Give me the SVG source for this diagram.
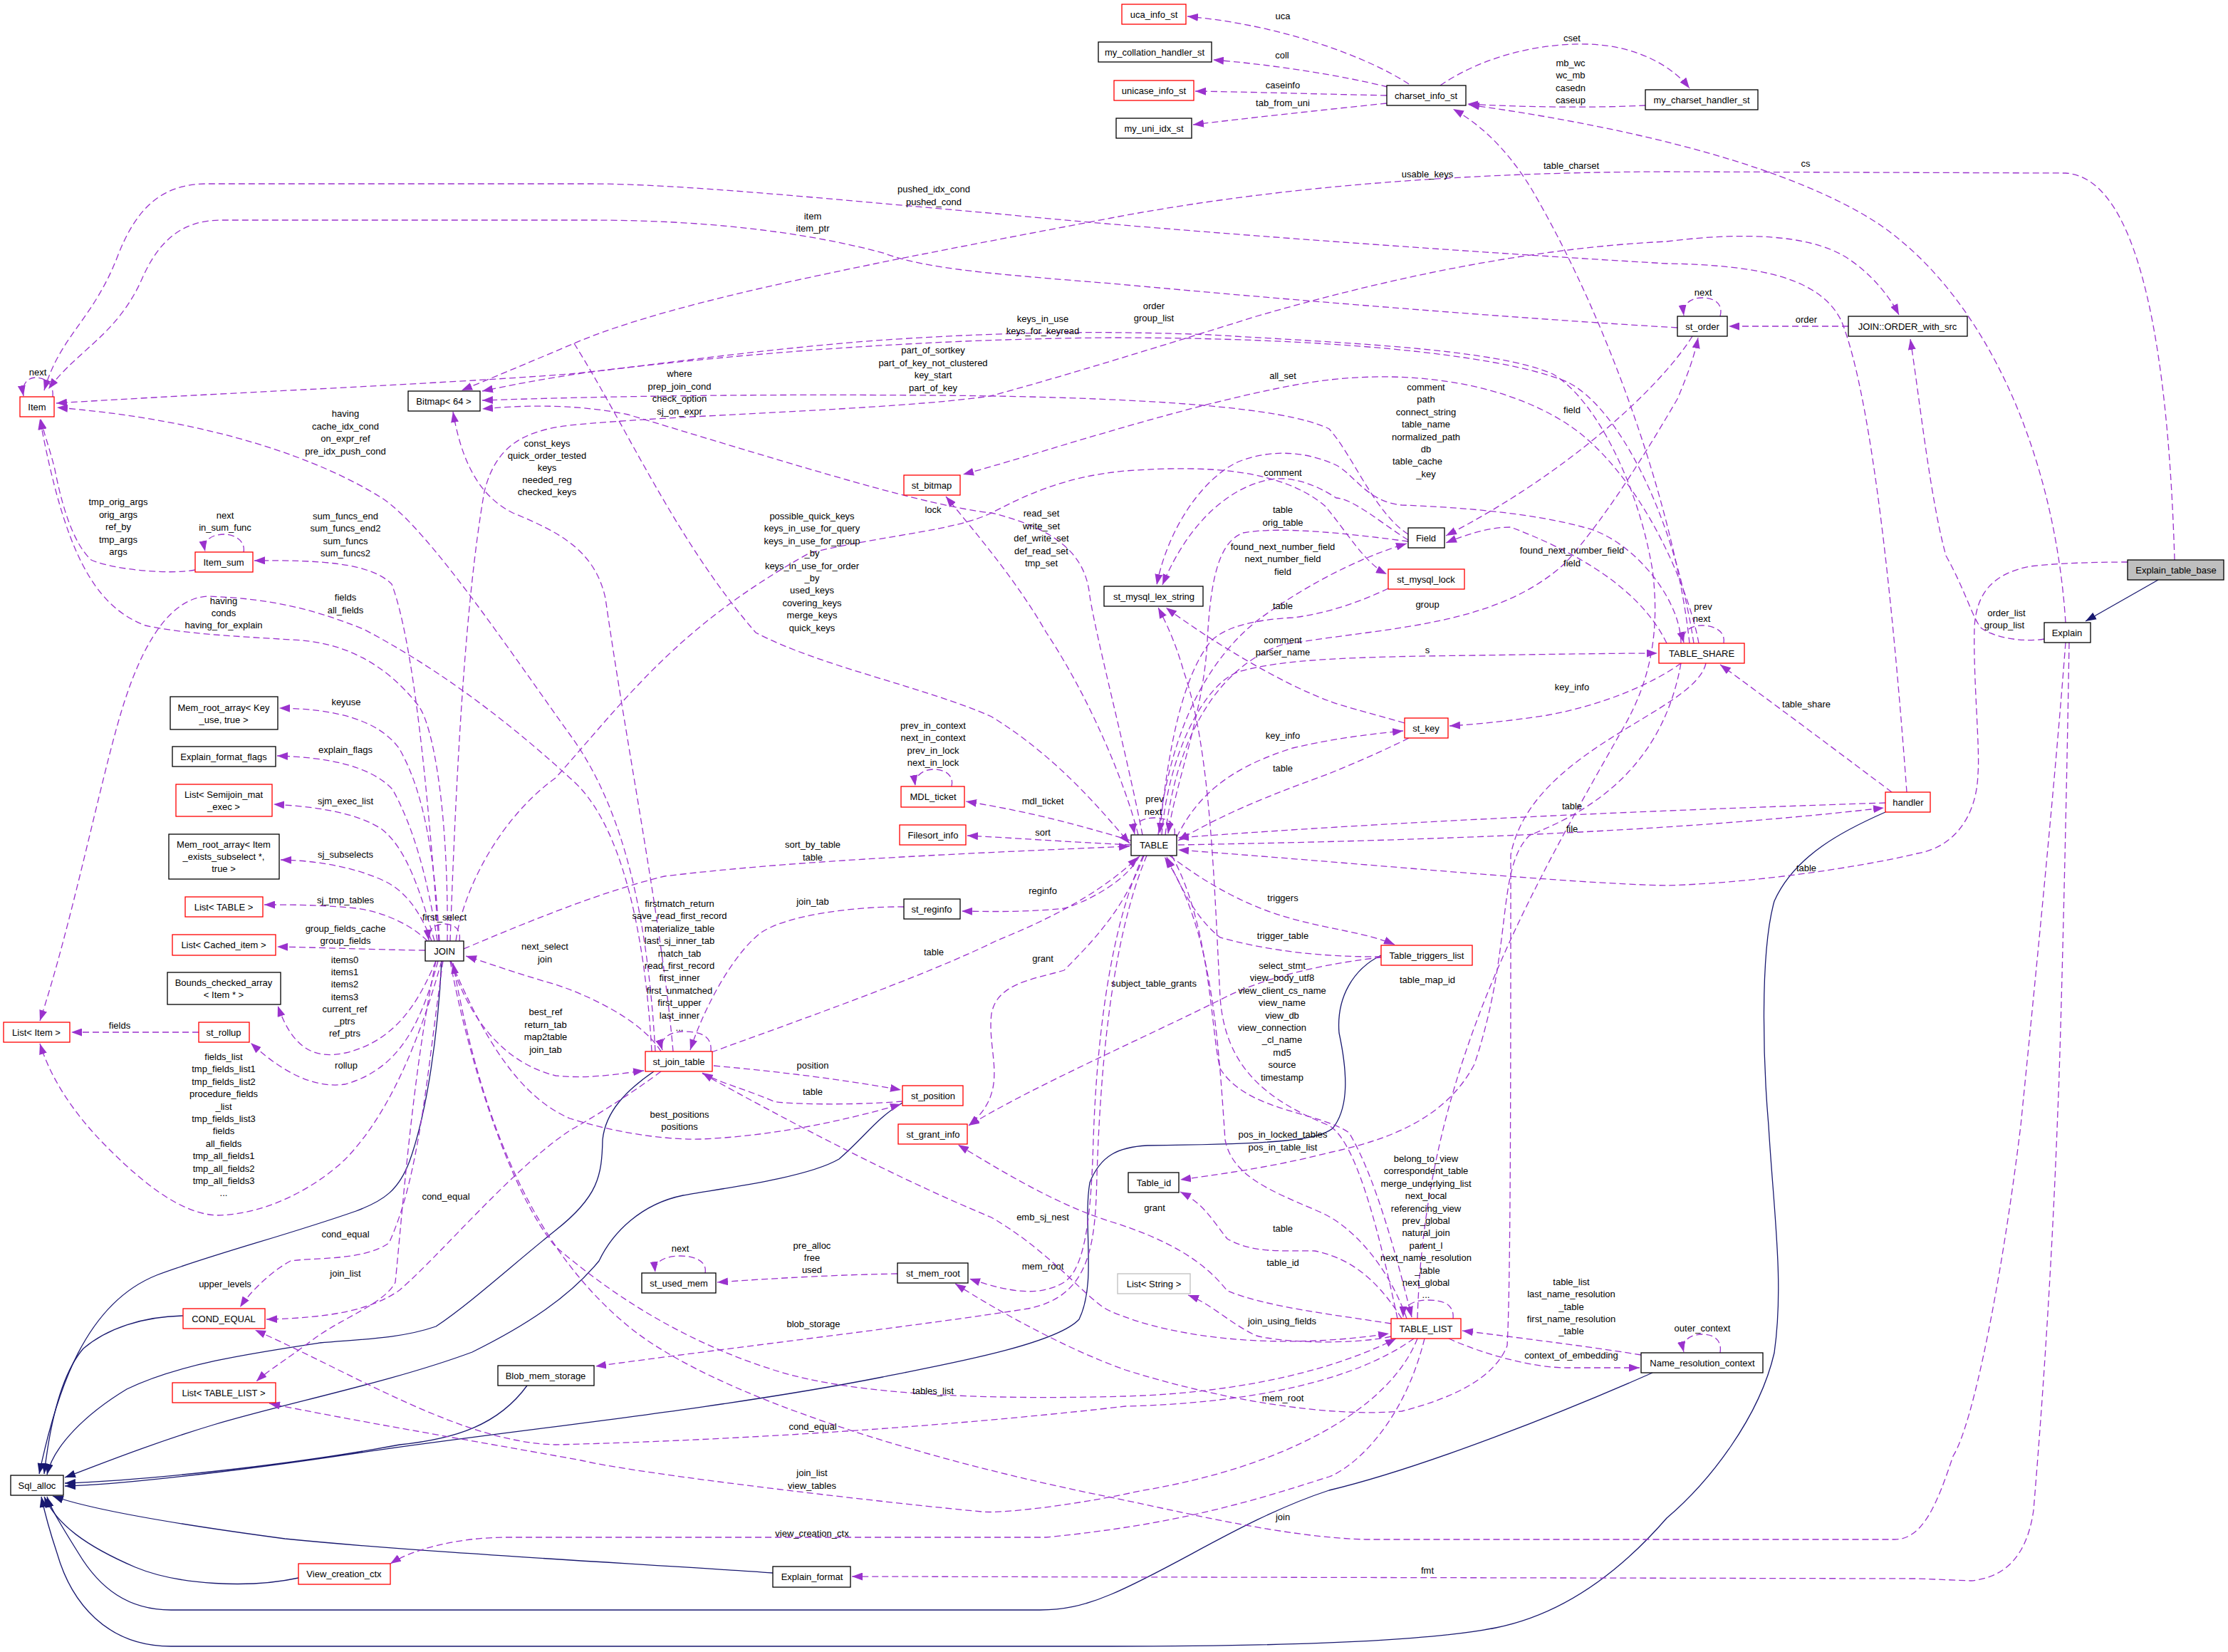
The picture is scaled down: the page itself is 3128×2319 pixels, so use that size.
<svg xmlns="http://www.w3.org/2000/svg" width="3128" height="2319" viewBox="0 0 3128 2319">
<style>
.n rect{fill:#fff;stroke:#000;stroke-width:1.3}
.r rect{stroke:#ff0000}
.g rect{fill:#bfbfbf}
.w rect{stroke:#bfbfbf}
text{font-family:"Liberation Sans",Arial,Helvetica,sans-serif;font-size:13px;fill:#000;text-anchor:middle}
.e{fill:none;stroke:#9a32cd;stroke-width:1.3;stroke-dasharray:9,5;marker-end:url(#pa)}
.s{fill:none;stroke:#191970;stroke-width:1.3;marker-end:url(#pb)}
</style>
<defs>
<marker id="pa" viewBox="0 0 15 11" refX="15" refY="5.5" markerWidth="15" markerHeight="11" markerUnits="userSpaceOnUse" orient="auto"><path d="M0,0 L15,5.5 L0,11 z" fill="#9a32cd"/></marker>
<marker id="pb" viewBox="0 0 15 11" refX="15" refY="5.5" markerWidth="15" markerHeight="11" markerUnits="userSpaceOnUse" orient="auto"><path d="M0,0 L15,5.5 L0,11 z" fill="#191970"/></marker>
</defs>
<rect width="3128" height="2319" fill="#fff"/>
<g id="edges">
<path class="s" d="M3030,814 L2928,872"/>
<path class="s" d="M620,1349 C615,1450 600,1560 575,1630 C560,1670 540,1685 500,1700 C400,1735 300,1760 220,1790 C120,1830 80,1950 55,2069"/>
<path class="s" d="M257,1847 C200,1848 150,1865 117,1893 C85,1930 70,2000 62,2069"/>
<path class="s" d="M918,1504 C880,1530 850,1560 846,1600 C845,1650 840,1680 780,1727 C720,1775 660,1830 612,1862 C560,1880 500,1880 449,1885 C350,1900 250,1915 178,1950 C120,1985 75,2030 66,2070"/>
<path class="s" d="M1267,1548 C1230,1570 1215,1595 1178,1627 C1130,1655 1000,1670 959,1678 C900,1690 860,1730 841,1770 C800,1820 740,1860 663,1898 C550,1940 400,1970 300,2000 C200,2030 130,2060 91,2074"/>
<path class="s" d="M740,1945 C700,2000 640,2020 561,2028 C400,2058 200,2078 91,2082"/>
<path class="s" d="M1939,1341 C1900,1360 1876,1400 1880,1450 C1895,1520 1890,1560 1871,1584 C1850,1600 1800,1606 1611,1608 C1570,1610 1545,1622 1530,1660 C1520,1720 1540,1800 1515,1852 C1480,1890 1300,1920 1239,1933 C1000,1980 700,2010 500,2040 C300,2070 150,2085 91,2086"/>
<path class="s" d="M419,2215 C350,2230 250,2225 190,2200 C120,2170 80,2140 62,2101"/>
<path class="s" d="M1085,2208 C900,2195 600,2180 400,2160 C250,2140 130,2120 74,2100"/>
<path class="s" d="M2320,1927 C2200,1980 2000,2060 1866,2092 C1750,2130 1650,2200 1560,2238 C1520,2255 1490,2260 1460,2260 L240,2260 C180,2260 140,2230 110,2180 C85,2140 70,2115 66,2101"/>
<path class="s" d="M2647,1140 C2590,1165 2520,1200 2491,1265 C2470,1340 2476,1500 2483,1580 C2490,1700 2505,1800 2491,1899 C2470,1990 2400,2080 2340,2131 C2280,2200 2200,2265 2100,2285 C2000,2305 1800,2311 1560,2311 L240,2311 C150,2311 100,2250 80,2180 C70,2150 62,2120 58,2101"/>

<path class="e" d="M1978,118 C1920,80 1800,35 1667,23"/>
<path class="e" d="M1948,122 C1880,105 1780,90 1703,84"/>
<path class="e" d="M1947,134 C1850,132 1750,129 1678,128"/>
<path class="e" d="M1947,145 C1850,155 1750,166 1675,175"/>
<path class="e" d="M2022,120 C2080,80 2160,60 2230,62 C2300,64 2350,95 2372,124"/>
<path class="e" d="M2310,148 C2230,152 2130,150 2060,146"/>
<path class="e" d="M2372,903 C2355,740 2270,470 2150,265 C2110,200 2070,170 2040,153"/>
<path class="e" d="M2900,874 C2885,640 2790,420 2640,316 C2520,236 2300,180 2062,147"/>
<path class="e" d="M3053,786 C3045,520 3010,250 2900,243 L2340,241 C2000,242 1750,270 1560,306 C1250,365 950,420 806,482 C740,510 680,535 648,548"/>
<path class="e" d="M806,482 C880,600 950,760 1061,888 C1150,935 1300,965 1392,1006 C1480,1060 1540,1130 1586,1184"/>
<path class="e" d="M2677,1112 C2660,880 2630,560 2585,450 C2555,390 2470,372 2340,370 C2000,350 1600,320 1400,300 C1150,278 950,258 830,258 L290,258 C225,258 190,295 165,360 C130,450 85,470 62,548"/>
<path class="e" d="M2355,460 C2100,445 1800,420 1560,398 C1400,385 1300,378 1240,355 C1100,318 950,309 830,309 L310,309 C250,309 220,345 200,390 C165,470 110,490 68,546"/>
<path class="e" d="M2415,444 C2420,425 2405,418 2390,418 C2372,418 2362,428 2364,443"/>
<path class="e" d="M2595,458 L2427,458"/>
<path class="e" d="M632,1321 C640,1100 652,850 680,690 C695,630 730,605 800,597 C950,582 1250,576 1390,556 C1480,532 1600,495 1764,444 C1950,390 2150,348 2340,339 C2450,325 2540,330 2590,360 C2630,385 2655,420 2666,442"/>
<path class="e" d="M2376,472 C2330,545 2200,665 2030,752"/>
<path class="e" d="M1636,1172 C1650,1050 1700,940 1800,905 C1950,880 2100,880 2198,790 C2260,720 2320,620 2355,560 C2372,520 2380,495 2384,474"/>
<path class="e" d="M2378,903 C2350,720 2270,570 2200,536 C2100,495 1850,474 1560,474 C1300,476 1050,495 830,522 C760,532 710,542 677,549"/>
<path class="e" d="M1990,1851 C2000,1500 2150,1250 2280,1020 C2320,950 2330,880 2320,800 C2300,680 2240,560 2180,525 C2100,490 1900,482 1700,470 C1500,462 1350,470 1229,478 C1050,492 900,515 800,525 C600,540 300,552 79,566"/>
<path class="e" d="M1977,750 C1930,720 1900,640 1866,602 C1800,570 1600,560 1400,556 C1100,552 850,556 677,562"/>
<path class="e" d="M945,1476 C930,1300 880,1050 850,840 C835,770 780,745 720,720 C680,700 650,660 636,578"/>
<path class="e" d="M2385,903 C2370,820 2300,660 2200,595 C2100,530 1950,515 1815,541 C1650,572 1450,640 1352,666"/>
<path class="e" d="M2360,903 C2360,840 2290,755 2223,740 C2150,720 2050,712 1968,709 C1920,705 1900,665 1876,653 C1840,636 1790,628 1739,648 C1690,670 1640,740 1624,821"/>
<path class="e" d="M1977,758 C1940,735 1900,700 1876,699 C1850,682 1820,670 1790,672 C1730,680 1670,730 1632,821"/>
<path class="e" d="M1977,760 C1900,750 1800,738 1745,748 C1715,760 1700,800 1695,900 C1690,1000 1650,1100 1640,1170"/>
<path class="e" d="M1626,1172 C1640,1050 1680,940 1764,872 C1820,830 1900,785 1975,763"/>
<path class="e" d="M1598,1172 C1580,1100 1530,980 1469,888 C1430,820 1380,760 1328,697"/>
<path class="e" d="M1604,1172 C1580,1050 1540,900 1530,837 C1525,786 1494,745 1392,720 C1300,710 1137,659 882,582 C800,565 720,570 677,574"/>
<path class="e" d="M640,1321 C650,1250 700,1150 780,1092 C880,980 950,880 1137,776 C1250,750 1340,745 1392,720 C1440,695 1494,669 1580,661 C1700,652 1800,660 1860,710 C1890,745 1915,790 1947,806"/>
<path class="e" d="M274,800 C240,807 160,800 128,786 C100,760 85,700 77,659 C70,630 62,610 57,588"/>
<path class="e" d="M342,775 C345,760 330,750 315,750 C295,750 285,760 288,774"/>
<path class="e" d="M616,1321 C600,1100 580,900 550,820 C520,790 450,786 357,787"/>
<path class="e" d="M628,1321 C630,1150 610,1020 587,990 C540,930 480,900 408,898 C330,893 260,890 204,878 C130,850 90,770 56,588"/>
<path class="e" d="M915,1476 C905,1300 870,1150 800,1092 C700,1000 600,930 510,883 C440,855 380,840 291,837 C240,840 200,900 170,1000 C140,1100 100,1300 56,1433"/>
<path class="e" d="M920,1476 C910,1300 880,1140 800,1031 C720,920 600,740 536,699 C450,645 300,590 80,572"/>
<path class="e" d="M617,1321 C610,1200 595,1110 560,1050 C530,1010 470,995 392,994"/>
<path class="e" d="M614,1321 C600,1230 580,1160 551,1108 C520,1075 460,1063 389,1061"/>
<path class="e" d="M610,1321 C590,1250 570,1190 536,1164 C500,1140 440,1132 384,1129"/>
<path class="e" d="M606,1321 C590,1280 570,1250 536,1235 C490,1215 440,1208 394,1207"/>
<path class="e" d="M600,1321 C580,1300 540,1280 500,1275 C450,1270 410,1270 371,1270"/>
<path class="e" d="M645,1321 C648,1303 636,1297 624,1297 C610,1297 600,1305 602,1320"/>
<path class="e" d="M597,1334 C520,1333 450,1330 389,1329"/>
<path class="e" d="M612,1349 C590,1400 560,1460 485,1478 C440,1488 410,1470 390,1412"/>
<path class="e" d="M279,1449 L100,1449"/>
<path class="e" d="M615,1349 C590,1440 560,1500 485,1522 C430,1530 380,1490 352,1464"/>
<path class="e" d="M620,1349 C600,1420 560,1550 485,1627 C440,1670 370,1705 306,1706 C250,1705 190,1650 150,1610 C100,1560 70,1510 56,1465"/>
<path class="e" d="M928,1476 C900,1430 820,1395 780,1382 C720,1365 680,1350 654,1342"/>
<path class="e" d="M633,1349 C655,1420 700,1490 780,1510 C830,1515 870,1507 904,1503"/>
<path class="e" d="M998,1476 C1000,1455 985,1448 960,1448 C940,1448 925,1458 930,1474"/>
<path class="e" d="M1269,1273 C1200,1272 1100,1285 1066,1311 C1030,1340 990,1410 969,1474"/>
<path class="e" d="M999,1477 C1100,1440 1300,1370 1400,1320 C1500,1280 1560,1240 1598,1203"/>
<path class="e" d="M651,1332 C750,1290 850,1250 933,1230 C1100,1210 1300,1200 1586,1188"/>
<path class="e" d="M1336,1104 C1340,1087 1325,1080 1311,1080 C1295,1080 1283,1090 1285,1103"/>
<path class="e" d="M1588,1180 C1520,1160 1450,1140 1356,1125"/>
<path class="e" d="M1588,1186 C1500,1182 1420,1176 1358,1173"/>
<path class="e" d="M1600,1201 C1580,1240 1520,1268 1494,1275 C1450,1280 1400,1280 1350,1279"/>
<path class="e" d="M1606,1201 C1580,1270 1545,1311 1494,1362 C1450,1375 1400,1380 1392,1423 C1385,1480 1420,1530 1360,1580"/>
<path class="e" d="M1002,1496 C1100,1505 1180,1515 1265,1530"/>
<path class="e" d="M1267,1546 C1200,1552 1100,1550 1086,1546 C1050,1530 1010,1520 986,1506"/>
<path class="e" d="M633,1349 C680,1460 730,1540 800,1570 C880,1595 950,1600 984,1599 C1080,1595 1180,1575 1265,1550"/>
<path class="e" d="M1939,1344 C1870,1351 1780,1370 1720,1400 C1600,1460 1450,1525 1360,1580"/>
<path class="e" d="M1953,1858 C1870,1845 1780,1835 1723,1812 C1690,1770 1640,1740 1560,1715 C1480,1690 1400,1640 1345,1607"/>
<path class="e" d="M1968,1851 C1930,1790 1890,1765 1846,1756 C1800,1755 1760,1760 1723,1739 C1700,1710 1690,1690 1657,1673"/>
<path class="e" d="M2360,931 C2330,1100 2200,1150 2147,1173 C2100,1220 2125,1330 2070,1494 C2030,1570 1950,1600 1866,1618 C1780,1640 1700,1650 1657,1656"/>
<path class="e" d="M1645,1201 C1700,1300 1700,1450 1713,1500 C1750,1560 1850,1560 1894,1590 C1930,1650 1960,1760 1982,1849"/>
<path class="e" d="M1975,1851 C1950,1780 1900,1720 1850,1700 C1780,1670 1730,1650 1720,1600 C1710,1450 1700,1300 1635,1203"/>
<path class="e" d="M1962,1851 C1930,1700 1900,1600 1866,1580 C1780,1545 1720,1500 1713,1400 C1705,1250 1700,1050 1662,943 C1650,900 1635,870 1626,853"/>
<path class="e" d="M2040,1851 C2042,1830 2025,1825 2004,1825 C1985,1825 1970,1832 1970,1849"/>
<path class="e" d="M1953,1876 C1900,1888 1800,1885 1764,1875 C1730,1860 1700,1830 1668,1818"/>
<path class="e" d="M986,1507 C1100,1570 1250,1650 1392,1709 C1480,1760 1530,1830 1560,1841 C1650,1880 1800,1895 1950,1872"/>
<path class="e" d="M1260,1788 C1150,1790 1050,1797 1007,1800"/>
<path class="e" d="M990,1787 C993,1770 975,1763 955,1763 C935,1763 918,1770 920,1786"/>
<path class="e" d="M1605,1201 C1560,1300 1540,1450 1535,1600 C1532,1700 1525,1780 1494,1800 C1460,1820 1420,1815 1361,1795"/>
<path class="e" d="M1610,1201 C1560,1320 1545,1500 1540,1650 C1538,1750 1530,1820 1443,1837 C1300,1860 1000,1895 836,1918"/>
<path class="e" d="M2395,931 C2380,1000 2150,1050 2121,1200 C2121,1500 2121,1800 2116,1889 C2100,1930 2050,1960 1968,1981 C1866,1990 1713,1965 1580,1923 C1500,1895 1400,1840 1341,1802"/>
<path class="e" d="M632,1349 C660,1500 720,1680 780,1750 C850,1810 950,1880 1086,1923 C1200,1960 1400,1965 1580,1960 C1750,1955 1880,1920 1960,1879"/>
<path class="e" d="M1985,1879 C1900,1940 1750,1970 1580,1974 C1400,1995 1100,2020 780,2028 C650,2025 500,1930 358,1867"/>
<path class="e" d="M622,1349 C600,1500 590,1650 546,1745 C510,1770 440,1765 408,1770 C380,1785 350,1815 337,1835"/>
<path class="e" d="M928,1504 C880,1540 830,1570 800,1587 C720,1640 620,1760 561,1811 C520,1840 460,1850 374,1852"/>
<path class="e" d="M612,1349 C580,1500 565,1700 555,1800 C540,1830 480,1850 440,1880 C400,1910 375,1925 360,1939"/>
<path class="e" d="M1990,1879 C1950,1980 1800,2060 1600,2093 C1500,2115 1400,2125 1378,2122 C1250,2110 900,2070 816,2050 C650,2020 500,1995 378,1970"/>
<path class="e" d="M2000,1879 C1970,2000 1900,2060 1866,2073 C1750,2110 1650,2140 1469,2158 L714,2158 C640,2158 580,2175 548,2195"/>
<path class="e" d="M2900,902 C2885,1100 2855,1400 2837,1580 C2810,1800 2770,2000 2742,2044 C2720,2110 2700,2161 2660,2161 L1917,2161 C1800,2158 1650,2120 1560,2102 C1300,2050 1000,1960 880,1860 C760,1760 680,1600 636,1352"/>
<path class="e" d="M2905,902 C2900,1200 2892,1500 2889,1560 C2880,1800 2865,2000 2855,2120 C2845,2190 2810,2215 2767,2219 L2692,2216 L1196,2213"/>
<path class="e" d="M2870,897 C2840,902 2800,895 2782,882 C2770,870 2760,830 2732,780 C2710,700 2695,560 2682,476"/>
<path class="e" d="M2987,789 C2950,789 2893,790 2850,795 C2800,805 2775,830 2772,880 C2770,950 2780,1050 2777,1086 C2775,1150 2740,1190 2692,1198 C2600,1220 2450,1240 2340,1243 C2200,1240 1950,1215 1654,1193"/>
<path class="e" d="M2647,1127 C2400,1135 2000,1150 1654,1176"/>
<path class="e" d="M1654,1186 C2000,1180 2350,1168 2645,1134"/>
<path class="e" d="M2656,1112 C2600,1070 2480,980 2415,933"/>
<path class="e" d="M2420,903 C2423,885 2405,878 2390,878 C2372,878 2360,888 2364,902"/>
<path class="e" d="M1631,1172 C1640,1060 1690,960 1739,943 C1800,925 1900,922 2070,920 C2200,918 2280,917 2327,917"/>
<path class="e" d="M2360,931 C2320,960 2250,990 2172,1004 C2120,1012 2070,1017 2035,1019"/>
<path class="e" d="M1652,1175 C1680,1120 1720,1080 1815,1050 C1880,1035 1930,1030 1970,1026"/>
<path class="e" d="M1978,1036 C1930,1060 1880,1080 1866,1086 C1800,1110 1720,1140 1654,1180"/>
<path class="e" d="M1972,1015 C1920,1000 1880,990 1866,984 C1800,960 1700,900 1637,853"/>
<path class="e" d="M1949,826 C1910,845 1860,862 1815,867 C1760,870 1720,880 1700,900 C1660,950 1640,1050 1628,1170"/>
<path class="e" d="M1649,1172 C1652,1155 1638,1148 1621,1148 C1603,1148 1590,1156 1593,1171"/>
<path class="e" d="M1642,1201 C1680,1230 1740,1270 1815,1290 C1870,1305 1920,1310 1958,1326"/>
<path class="e" d="M1939,1343 C1880,1343 1800,1340 1713,1316 C1680,1290 1660,1250 1638,1203"/>
<path class="e" d="M2304,1902 C2250,1893 2150,1880 2053,1868"/>
<path class="e" d="M2034,1879 C2080,1900 2150,1920 2200,1920 L2302,1920"/>
<path class="e" d="M2415,1899 C2418,1880 2405,1873 2390,1873 C2373,1873 2360,1882 2364,1898"/>
<path class="e" d="M2340,903 C2300,820 2200,770 2121,740 C2090,740 2060,750 2030,762"/>
<path class="e" d="M74,557 C76,538 62,530 50,530 C38,530 30,540 33,556"/>
</g>
<g id="labels">
<text x="1801" y="27">uca</text>
<text x="1800" y="82">coll</text>
<text x="1801" y="124">caseinfo</text>
<text x="1801" y="149">tab_from_uni</text>
<text x="2207" y="58">cset</text>
<text x="2205" y="93"><tspan x="2205">mb_wc</tspan><tspan x="2205" dy="17.3">wc_mb</tspan><tspan x="2205" dy="17.3">casedn</tspan><tspan x="2205" dy="17.3">caseup</tspan></text>
<text x="2206" y="237">table_charset</text>
<text x="2535" y="234">cs</text>
<text x="2004" y="249">usable_keys</text>
<text x="1311" y="270"><tspan x="1311">pushed_idx_cond</tspan><tspan x="1311" dy="18">pushed_cond</tspan></text>
<text x="1141" y="308"><tspan x="1141">item</tspan><tspan x="1141" dy="17">item_ptr</tspan></text>
<text x="2391" y="415">next</text>
<text x="2536" y="453">order</text>
<text x="1620" y="434"><tspan x="1620">order</tspan><tspan x="1620" dy="17">group_list</tspan></text>
<text x="1464" y="452"><tspan x="1464">keys_in_use</tspan><tspan x="1464" dy="17">keys_for_keyread</tspan></text>
<text x="1310" y="496"><tspan x="1310">part_of_sortkey</tspan><tspan x="1310" dy="17.6">part_of_key_not_clustered</tspan><tspan x="1310" dy="17.6">key_start</tspan><tspan x="1310" dy="17.6">part_of_key</tspan></text>
<text x="954" y="529"><tspan x="954">where</tspan><tspan x="954" dy="17.5">prep_join_cond</tspan><tspan x="954" dy="17.5">check_option</tspan><tspan x="954" dy="17.5">sj_on_expr</tspan></text>
<text x="53" y="527">next</text>
<text x="485" y="585"><tspan x="485">having</tspan><tspan x="485" dy="17.6">cache_idx_cond</tspan><tspan x="485" dy="17.6">on_expr_ref</tspan><tspan x="485" dy="17.6">pre_idx_push_cond</tspan></text>
<text x="768" y="627"><tspan x="768">const_keys</tspan><tspan x="768" dy="17">quick_order_tested</tspan><tspan x="768" dy="17">keys</tspan><tspan x="768" dy="17">needed_reg</tspan><tspan x="768" dy="17">checked_keys</tspan></text>
<text x="1801" y="532">all_set</text>
<text x="2002" y="548"><tspan x="2002">comment</tspan><tspan x="2002" dy="17.4">path</tspan><tspan x="2002" dy="17.4">connect_string</tspan><tspan x="2002" dy="17.4">table_name</tspan><tspan x="2002" dy="17.4">normalized_path</tspan><tspan x="2002" dy="17.4">db</tspan><tspan x="1990" dy="17.4">table_cache</tspan><tspan x="2002" dy="17.4">_key</tspan></text>
<text x="2207" y="580">field</text>
<text x="1801" y="668">comment</text>
<text x="1801" y="720"><tspan x="1801">table</tspan><tspan x="1801" dy="17.5">orig_table</tspan></text>
<text x="1310" y="720">lock</text>
<text x="1462" y="725"><tspan x="1462">read_set</tspan><tspan x="1462" dy="17.5">write_set</tspan><tspan x="1462" dy="17.5">def_write_set</tspan><tspan x="1462" dy="17.5">def_read_set</tspan><tspan x="1462" dy="17.5">tmp_set</tspan></text>
<text x="1140" y="729"><tspan x="1140">possible_quick_keys</tspan><tspan x="1140" dy="17.4">keys_in_use_for_query</tspan><tspan x="1140" dy="17.4">keys_in_use_for_group</tspan><tspan x="1140" dy="17.4">_by</tspan><tspan x="1140" dy="17.4">keys_in_use_for_order</tspan><tspan x="1140" dy="17.4">_by</tspan><tspan x="1140" dy="17.4">used_keys</tspan><tspan x="1140" dy="17.4">covering_keys</tspan><tspan x="1140" dy="17.4">merge_keys</tspan><tspan x="1140" dy="17.4">quick_keys</tspan></text>
<text x="1801" y="772"><tspan x="1801">found_next_number_field</tspan><tspan x="1801" dy="17.4">next_number_field</tspan><tspan x="1801" dy="17.4">field</tspan></text>
<text x="2207" y="777"><tspan x="2207">found_next_number_field</tspan><tspan x="2207" dy="17.5">field</tspan></text>
<text x="166" y="709"><tspan x="166">tmp_orig_args</tspan><tspan x="166" dy="17.6">orig_args</tspan><tspan x="166" dy="17.6">ref_by</tspan><tspan x="166" dy="17.6">tmp_args</tspan><tspan x="166" dy="17.6">args</tspan></text>
<text x="316" y="728"><tspan x="316">next</tspan><tspan x="316" dy="17">in_sum_func</tspan></text>
<text x="485" y="729"><tspan x="485">sum_funcs_end</tspan><tspan x="485" dy="17.4">sum_funcs_end2</tspan><tspan x="485" dy="17.4">sum_funcs</tspan><tspan x="485" dy="17.4">sum_funcs2</tspan></text>
<text x="314" y="848"><tspan x="314">having</tspan><tspan x="314" dy="16.8">conds</tspan><tspan x="314" dy="16.8">having_for_explain</tspan></text>
<text x="485" y="843"><tspan x="485">fields</tspan><tspan x="485" dy="17.5">all_fields</tspan></text>
<text x="1801" y="855">table</text>
<text x="2004" y="853">group</text>
<text x="1801" y="903"><tspan x="1801">comment</tspan><tspan x="1801" dy="17">parser_name</tspan></text>
<text x="2004" y="917">s</text>
<text x="2391" y="856"><tspan x="2391">prev</tspan><tspan x="2389" dy="17">next</tspan></text>
<text x="2817" y="865"><tspan x="2817">order_list</tspan><tspan x="2814" dy="16.5">group_list</tspan></text>
<text x="2207" y="969">key_info</text>
<text x="2536" y="993">table_share</text>
<text x="486" y="990">keyuse</text>
<text x="1310" y="1023"><tspan x="1310">prev_in_context</tspan><tspan x="1310" dy="17.3">next_in_context</tspan><tspan x="1310" dy="17.3">prev_in_lock</tspan><tspan x="1310" dy="17.3">next_in_lock</tspan></text>
<text x="1801" y="1037">key_info</text>
<text x="485" y="1057">explain_flags</text>
<text x="1801" y="1083">table</text>
<text x="1621" y="1126"><tspan x="1621">prev</tspan><tspan x="1619" dy="18">next</tspan></text>
<text x="485" y="1129">sjm_exec_list</text>
<text x="1464" y="1129">mdl_ticket</text>
<text x="2207" y="1136">table</text>
<text x="2207" y="1168">file</text>
<text x="1464" y="1173">sort</text>
<text x="1141" y="1190"><tspan x="1141">sort_by_table</tspan><tspan x="1141" dy="17.5">table</tspan></text>
<text x="485" y="1204">sj_subselects</text>
<text x="2536" y="1223">table</text>
<text x="1464" y="1255">reginfo</text>
<text x="1801" y="1265">triggers</text>
<text x="485" y="1268">sj_tmp_tables</text>
<text x="1141" y="1270">join_tab</text>
<text x="954" y="1273"><tspan x="954">firstmatch_return</tspan><tspan x="954" dy="17.4">save_read_first_record</tspan><tspan x="954" dy="17.4">materialize_table</tspan><tspan x="954" dy="17.4">last_sj_inner_tab</tspan><tspan x="954" dy="17.4">match_tab</tspan><tspan x="954" dy="17.4">read_first_record</tspan><tspan x="954" dy="17.4">first_inner</tspan><tspan x="954" dy="17.4">first_unmatched</tspan><tspan x="954" dy="17.4">first_upper</tspan><tspan x="954" dy="17.4">last_inner</tspan><tspan x="954" dy="17.4">...</tspan></text>
<text x="624" y="1292">first_select</text>
<text x="485" y="1308"><tspan x="485">group_fields_cache</tspan><tspan x="485" dy="17">group_fields</tspan></text>
<text x="1801" y="1318">trigger_table</text>
<text x="765" y="1333"><tspan x="765">next_select</tspan><tspan x="765" dy="18">join</tspan></text>
<text x="1311" y="1341">table</text>
<text x="1464" y="1350">grant</text>
<text x="484" y="1352"><tspan x="484">items0</tspan><tspan x="484" dy="17.2">items1</tspan><tspan x="484" dy="17.2">items2</tspan><tspan x="484" dy="17.2">items3</tspan><tspan x="484" dy="17.2">current_ref</tspan><tspan x="484" dy="17.2">_ptrs</tspan><tspan x="484" dy="17.2">ref_ptrs</tspan></text>
<text x="1800" y="1360"><tspan x="1800">select_stmt</tspan><tspan x="1800" dy="17.4">view_body_utf8</tspan><tspan x="1800" dy="17.4">view_client_cs_name</tspan><tspan x="1800" dy="17.4">view_name</tspan><tspan x="1800" dy="17.4">view_db</tspan><tspan x="1786" dy="17.4">view_connection</tspan><tspan x="1800" dy="17.4">_cl_name</tspan><tspan x="1800" dy="17.4">md5</tspan><tspan x="1800" dy="17.4">source</tspan><tspan x="1800" dy="17.4">timestamp</tspan></text>
<text x="2004" y="1380">table_map_id</text>
<text x="1620" y="1385">subject_table_grants</text>
<text x="766" y="1425"><tspan x="766">best_ref</tspan><tspan x="766" dy="17.6">return_tab</tspan><tspan x="766" dy="17.6">map2table</tspan><tspan x="766" dy="17.6">join_tab</tspan></text>
<text x="168" y="1444">fields</text>
<text x="314" y="1488"><tspan x="314">fields_list</tspan><tspan x="314" dy="17.4">tmp_fields_list1</tspan><tspan x="314" dy="17.4">tmp_fields_list2</tspan><tspan x="314" dy="17.4">procedure_fields</tspan><tspan x="314" dy="17.4">_list</tspan><tspan x="314" dy="17.4">tmp_fields_list3</tspan><tspan x="314" dy="17.4">fields</tspan><tspan x="314" dy="17.4">all_fields</tspan><tspan x="314" dy="17.4">tmp_all_fields1</tspan><tspan x="314" dy="17.4">tmp_all_fields2</tspan><tspan x="314" dy="17.4">tmp_all_fields3</tspan><tspan x="314" dy="17.4">...</tspan></text>
<text x="486" y="1500">rollup</text>
<text x="1141" y="1500">position</text>
<text x="1141" y="1537">table</text>
<text x="954" y="1569"><tspan x="954">best_positions</tspan><tspan x="954" dy="16.5">positions</tspan></text>
<text x="1801" y="1597"><tspan x="1801">pos_in_locked_tables</tspan><tspan x="1801" dy="18">pos_in_table_list</tspan></text>
<text x="2002" y="1631"><tspan x="2002">belong_to_view</tspan><tspan x="2002" dy="17.4">correspondent_table</tspan><tspan x="2002" dy="17.4">merge_underlying_list</tspan><tspan x="2002" dy="17.4">next_local</tspan><tspan x="2002" dy="17.4">referencing_view</tspan><tspan x="2002" dy="17.4">prev_global</tspan><tspan x="2002" dy="17.4">natural_join</tspan><tspan x="2002" dy="17.4">parent_l</tspan><tspan x="2002" dy="17.4">next_name_resolution</tspan><tspan x="2004" dy="17.4">_table</tspan><tspan x="2002" dy="17.4">next_global</tspan><tspan x="2002" dy="17.4">...</tspan></text>
<text x="626" y="1684">cond_equal</text>
<text x="1621" y="1700">grant</text>
<text x="1464" y="1713">emb_sj_nest</text>
<text x="1801" y="1729">table</text>
<text x="485" y="1737">cond_equal</text>
<text x="1140" y="1753"><tspan x="1140">pre_alloc</tspan><tspan x="1140" dy="17">free</tspan><tspan x="1140" dy="17">used</tspan></text>
<text x="955" y="1757">next</text>
<text x="1801" y="1777">table_id</text>
<text x="1464" y="1782">mem_root</text>
<text x="485" y="1792">join_list</text>
<text x="2206" y="1804"><tspan x="2206">table_list</tspan><tspan x="2206" dy="17.3">last_name_resolution</tspan><tspan x="2206" dy="17.3">_table</tspan><tspan x="2206" dy="17.3">first_name_resolution</tspan><tspan x="2206" dy="17.3">_table</tspan></text>
<text x="316" y="1807">upper_levels</text>
<text x="1800" y="1859">join_using_fields</text>
<text x="1142" y="1863">blob_storage</text>
<text x="2390" y="1869">outer_context</text>
<text x="2206" y="1907">context_of_embedding</text>
<text x="1310" y="1957">tables_list</text>
<text x="1801" y="1967">mem_root</text>
<text x="1141" y="2007">cond_equal</text>
<text x="1140" y="2072"><tspan x="1140">join_list</tspan><tspan x="1140" dy="18">view_tables</tspan></text>
<text x="1801" y="2134">join</text>
<text x="1140" y="2157">view_creation_ctx</text>
<text x="2004" y="2209">fmt</text>
</g>
<g id="n_uca" class="n r"><rect x="1575" y="6" width="90" height="28"/><text x="1620" y="24.5">uca_info_st</text></g>
<g id="n_mycoll" class="n"><rect x="1542" y="59" width="159" height="28"/><text x="1621" y="77.5">my_collation_handler_st</text></g>
<g id="n_unicase" class="n r"><rect x="1564" y="113" width="112" height="28"/><text x="1620" y="131.5">unicase_info_st</text></g>
<g id="n_myuni" class="n"><rect x="1567" y="166" width="106" height="28"/><text x="1620" y="184.5">my_uni_idx_st</text></g>
<g id="n_charset" class="n"><rect x="1947" y="120" width="111" height="28"/><text x="2002" y="138.5">charset_info_st</text></g>
<g id="n_mycharset" class="n"><rect x="2310" y="126" width="158" height="28"/><text x="2389" y="144.5">my_charset_handler_st</text></g>
<g id="n_st_order" class="n"><rect x="2355" y="444" width="70" height="28"/><text x="2390" y="462.5">st_order</text></g>
<g id="n_orderwsrc" class="n"><rect x="2595" y="444" width="167" height="28"/><text x="2678" y="462.5">JOIN::ORDER_with_src</text></g>
<g id="n_item" class="n r"><rect x="28" y="557" width="48" height="28"/><text x="52" y="575.5">Item</text></g>
<g id="n_bitmap64" class="n"><rect x="573" y="549" width="101" height="28"/><text x="623" y="567.5">Bitmap&lt; 64 &gt;</text></g>
<g id="n_st_bitmap" class="n r"><rect x="1269" y="667" width="79" height="28"/><text x="1308" y="685.5">st_bitmap</text></g>
<g id="n_field" class="n"><rect x="1977" y="741" width="51" height="28"/><text x="2002" y="759.5">Field</text></g>
<g id="n_item_sum" class="n r"><rect x="274" y="775" width="81" height="28"/><text x="314" y="793.5">Item_sum</text></g>
<g id="n_mysql_lock" class="n r"><rect x="1949" y="799" width="107" height="28"/><text x="2002" y="817.5">st_mysql_lock</text></g>
<g id="n_lex_string" class="n"><rect x="1550" y="823" width="139" height="28"/><text x="1620" y="841.5">st_mysql_lex_string</text></g>
<g id="n_table_share" class="n r"><rect x="2329" y="903" width="120" height="28"/><text x="2389" y="921.5">TABLE_SHARE</text></g>
<g id="n_explain_table_base" class="n g"><rect x="2987" y="786" width="135" height="28"/><text x="3055" y="804.5">Explain_table_base</text></g>
<g id="n_explain" class="n"><rect x="2870" y="874" width="65" height="28"/><text x="2902" y="892.5">Explain</text></g>
<g id="n_mra_key" class="n"><rect x="239" y="978" width="151" height="46"/><text x="314" y="997.5">Mem_root_array&lt; Key</text><text x="314" y="1014.5">_use, true &gt;</text></g>
<g id="n_st_key" class="n r"><rect x="1972" y="1008" width="61" height="28"/><text x="2002" y="1026.5">st_key</text></g>
<g id="n_eff" class="n"><rect x="242" y="1048" width="145" height="28"/><text x="314" y="1066.5">Explain_format_flags</text></g>
<g id="n_list_sjm" class="n r"><rect x="247" y="1101" width="135" height="45"/><text x="314" y="1119.5">List&lt; Semijoin_mat</text><text x="314" y="1136.5">_exec &gt;</text></g>
<g id="n_mdl" class="n r"><rect x="1265" y="1104" width="89" height="29"/><text x="1310" y="1123">MDL_ticket</text></g>
<g id="n_handler" class="n r"><rect x="2647" y="1112" width="63" height="28"/><text x="2679" y="1130.5">handler</text></g>
<g id="n_filesort" class="n r"><rect x="1263" y="1158" width="93" height="28"/><text x="1310" y="1176.5">Filesort_info</text></g>
<g id="n_mra_item" class="n"><rect x="237" y="1171" width="155" height="63"/><text x="314" y="1189.5">Mem_root_array&lt; Item</text><text x="314" y="1206.5">_exists_subselect *,</text><text x="314" y="1223.5">true &gt;</text></g>
<g id="n_table" class="n"><rect x="1588" y="1172" width="64" height="29"/><text x="1620" y="1191">TABLE</text></g>
<g id="n_list_table" class="n r"><rect x="260" y="1259" width="109" height="28"/><text x="314" y="1277.5">List&lt; TABLE &gt;</text></g>
<g id="n_reginfo" class="n"><rect x="1269" y="1262" width="79" height="28"/><text x="1308" y="1280.5">st_reginfo</text></g>
<g id="n_join" class="n"><rect x="597" y="1321" width="54" height="28"/><text x="624" y="1339.5">JOIN</text></g>
<g id="n_list_cached" class="n r"><rect x="242" y="1312" width="145" height="29"/><text x="314" y="1331">List&lt; Cached_item &gt;</text></g>
<g id="n_triggers" class="n r"><rect x="1939" y="1327" width="128" height="28"/><text x="2003" y="1345.5">Table_triggers_list</text></g>
<g id="n_bca" class="n"><rect x="235" y="1365" width="159" height="45"/><text x="314" y="1383.5">Bounds_checked_array</text><text x="314" y="1400.5">&lt; Item * &gt;</text></g>
<g id="n_list_item" class="n r"><rect x="5" y="1435" width="93" height="28"/><text x="51" y="1453.5">List&lt; Item &gt;</text></g>
<g id="n_rollup" class="n r"><rect x="279" y="1435" width="71" height="28"/><text x="314" y="1453.5">st_rollup</text></g>
<g id="n_join_table" class="n r"><rect x="906" y="1476" width="94" height="28"/><text x="953" y="1494.5">st_join_table</text></g>
<g id="n_position" class="n r"><rect x="1267" y="1524" width="85" height="28"/><text x="1310" y="1542.5">st_position</text></g>
<g id="n_grant_info" class="n r"><rect x="1261" y="1578" width="97" height="28"/><text x="1310" y="1596.5">st_grant_info</text></g>
<g id="n_table_id" class="n"><rect x="1584" y="1646" width="71" height="28"/><text x="1620" y="1664.5">Table_id</text></g>
<g id="n_used_mem" class="n"><rect x="901" y="1787" width="104" height="28"/><text x="953" y="1805.5">st_used_mem</text></g>
<g id="n_mem_root" class="n"><rect x="1260" y="1773" width="99" height="28"/><text x="1310" y="1791.5">st_mem_root</text></g>
<g id="n_list_string" class="n w"><rect x="1569" y="1788" width="102" height="28"/><text x="1620" y="1806.5">List&lt; String &gt;</text></g>
<g id="n_cond_equal" class="n r"><rect x="257" y="1837" width="115" height="28"/><text x="314" y="1855.5">COND_EQUAL</text></g>
<g id="n_table_list" class="n r"><rect x="1953" y="1851" width="98" height="28"/><text x="2002" y="1869.5">TABLE_LIST</text></g>
<g id="n_nrc" class="n"><rect x="2304" y="1899" width="171" height="28"/><text x="2390" y="1917.5">Name_resolution_context</text></g>
<g id="n_blob" class="n"><rect x="699" y="1917" width="135" height="28"/><text x="766" y="1935.5">Blob_mem_storage</text></g>
<g id="n_list_tl" class="n r"><rect x="242" y="1941" width="145" height="28"/><text x="314" y="1959.5">List&lt; TABLE_LIST &gt;</text></g>
<g id="n_sql_alloc" class="n"><rect x="15" y="2071" width="74" height="28"/><text x="52" y="2089.5">Sql_alloc</text></g>
<g id="n_vcc" class="n r"><rect x="419" y="2195" width="129" height="29"/><text x="483" y="2214">View_creation_ctx</text></g>
<g id="n_explain_format" class="n"><rect x="1085" y="2199" width="109" height="29"/><text x="1140" y="2218">Explain_format</text></g>
</svg>
